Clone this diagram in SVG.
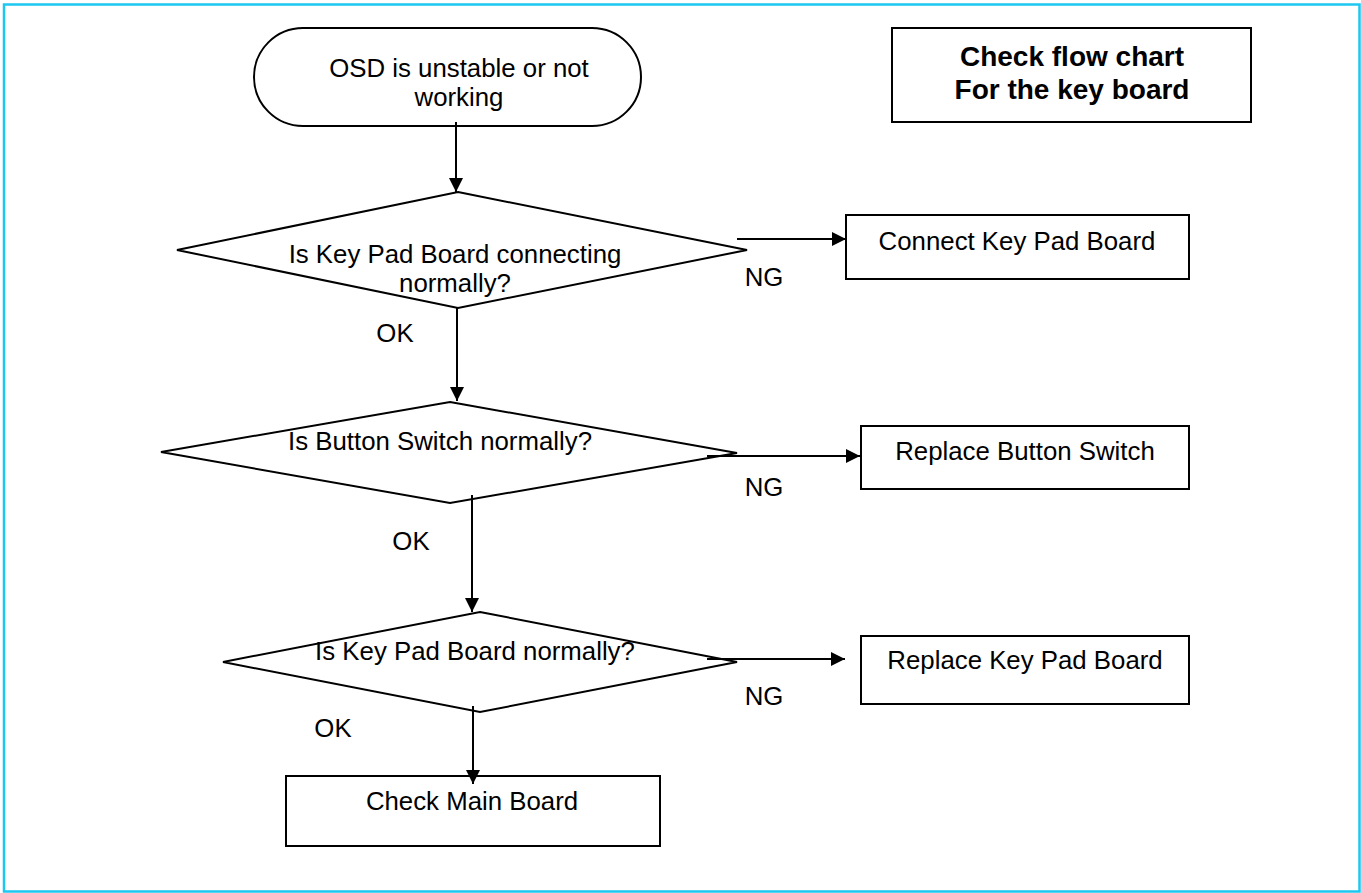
<svg xmlns="http://www.w3.org/2000/svg" width="1361" height="893" viewBox="0 0 1361 893">
<style>
.shape{fill:#ffffff;stroke:#000000;stroke-width:2}
.t{font-family:"Liberation Sans",Arial,sans-serif;font-size:25.8px;fill:#000000;text-anchor:middle}
.tb{font-family:"Liberation Sans",Arial,sans-serif;font-size:28px;font-weight:bold;fill:#000000;text-anchor:middle}
.c{fill:none;stroke:#000000;stroke-width:2}
</style>
<defs>
<marker id="arr" markerUnits="userSpaceOnUse" markerWidth="14" markerHeight="14" refX="14" refY="7" orient="auto">
<path d="M0,0 L14,7 L0,14 Z" fill="#000000"/>
</marker>
</defs>
<rect x="0" y="0" width="1361" height="893" fill="#ffffff"/>
<rect x="4" y="4.5" width="1355.5" height="887" fill="none" stroke="#1CC7F0" stroke-width="2.5"/>

<g id="start">
<rect class="shape" x="254" y="28" width="387" height="98" rx="49" ry="49"/>
<text class="t" x="459" y="77">OSD is unstable or not</text>
<text class="t" x="459" y="106">working</text>
</g>

<g id="title">
<rect class="shape" x="892" y="28" width="359" height="94"/>
<text class="tb" x="1072" y="66">Check flow chart</text>
<text class="tb" x="1072" y="99">For the key board</text>
</g>

<g id="q1">
<polygon class="shape" points="458,192 747,250 458,308 177,250"/>
<text class="t" x="455" y="263">Is Key Pad Board connecting</text>
<text class="t" x="455" y="292">normally?</text>
</g>

<g id="connect">
<rect class="shape" x="846" y="215" width="343" height="64"/>
<text class="t" x="1017" y="250">Connect Key Pad Board</text>
</g>

<g id="q2">
<polygon class="shape" points="450,402 737,453 450,503 161,452"/>
<text class="t" x="440" y="450">Is Button Switch normally?</text>
</g>

<g id="replaceSwitch">
<rect class="shape" x="861" y="426" width="328" height="63"/>
<text class="t" x="1025" y="460">Replace Button Switch</text>
</g>

<g id="q3">
<polygon class="shape" points="480,612 737,662 480,712 223,662"/>
<text class="t" x="475" y="660">Is Key Pad Board normally?</text>
</g>

<g id="replaceBoard">
<rect class="shape" x="861" y="636" width="328" height="68"/>
<text class="t" x="1025" y="669">Replace Key Pad Board</text>
</g>

<g id="mainBoard">
<rect class="shape" x="286" y="776" width="374" height="70"/>
<text class="t" x="472" y="810">Check Main Board</text>
</g>

<g id="connectors">
<line class="c" x1="456" y1="122" x2="456" y2="192" marker-end="url(#arr)"/>
<line class="c" x1="457" y1="308" x2="457" y2="401" marker-end="url(#arr)"/>
<line class="c" x1="472" y1="495" x2="472" y2="612" marker-end="url(#arr)"/>
<line class="c" x1="473" y1="706" x2="473" y2="784" marker-end="url(#arr)"/>
<line class="c" x1="737" y1="239" x2="846" y2="239" marker-end="url(#arr)"/>
<line class="c" x1="707" y1="456" x2="860" y2="456" marker-end="url(#arr)"/>
<line class="c" x1="707" y1="659" x2="845" y2="659" marker-end="url(#arr)"/>
<text class="t" x="395" y="342">OK</text>
<text class="t" x="411" y="550">OK</text>
<text class="t" x="333" y="737">OK</text>
<text class="t" x="764" y="286">NG</text>
<text class="t" x="764" y="496">NG</text>
<text class="t" x="764" y="705">NG</text>
</g>
</svg>
